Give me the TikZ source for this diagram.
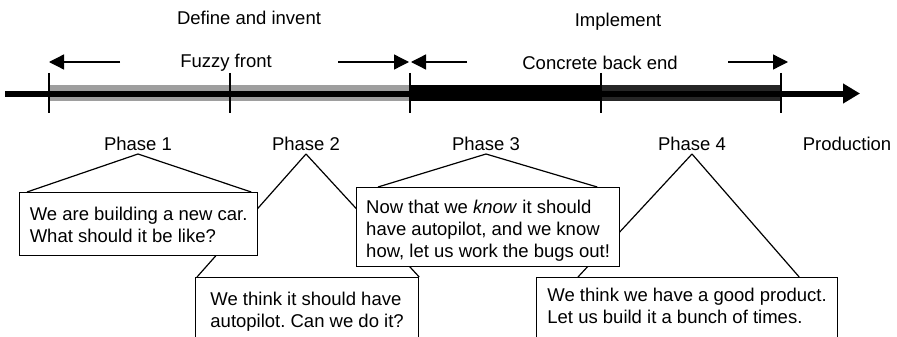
\documentclass[tikz,border=0pt]{standalone}
\usepackage{fontspec}
\setmainfont{Liberation Sans}
\usetikzlibrary{arrows.meta,backgrounds}
\frenchspacing

% struts to set the space above the first and below the last line of a note
\newcommand{\upgap}[1]{\rule{0pt}{#1}}
\newcommand{\downgap}[1]{\rule[-#1]{0pt}{#1}}

\begin{document}
\begin{tikzpicture}[x=1pt,y=-1pt,
  font=\fontsize{18.5}{22}\selectfont,
  note/.style={draw,fill=white,line width=1.2pt,anchor=north west,
    align=left,inner xsep=9pt,inner ysep=0pt},
  span/.style={line width=1.3pt,-{Triangle[length=15pt,width=15pt]}},
  leg/.style={line width=1.2pt}]
  \useasboundingbox (0,0) rectangle (897,337);

  % Time line
  \fill[black!38] (49,85) rectangle (410,101);
  \fill[black] (410,85) rectangle (601,101);
  \fill[black!85] (601,85) rectangle (781,101);
  \draw[line width=6pt,-{Triangle[length=17pt,width=19pt]}] (5,93.5) -- (860,93.5);
  \foreach \x/\n in {49/1,230/2,410/3,601/4,781/5}
    \draw[line width=1.2pt] (\x,73) coordinate (t\n) -- (\x,113);

  % Labels above
  \node[anchor=base] (define) at (249,25) {Define and invent};
  \node[anchor=base] (impl) at (618,27) {Implement};
  \node[anchor=base] (fuzzy) at (226,68) {Fuzzy front};
  \node[anchor=base] (back) at (600,70) {Concrete back end};

  % Spans
  \coordinate (s1) at (120,62);
  \coordinate (s2) at (339,62);
  \coordinate (s3) at (467,62);
  \coordinate (s4) at (773,62);
  \draw[span] (s1) -- (s1 -| t1);
  \draw[span] ([xshift=-1pt]s2) -- ([xshift=-1pt]s2 -| t3);
  \draw[span] (s3) -- ([xshift=1pt]s3 -| t3);
  \draw[span] ([xshift=-45pt]s4) -- ([xshift=7pt]s4 -| t5);

  % Phases
  \node[anchor=base] (p1) at (138,150) {Phase 1};
  \node[anchor=base] (p2) at (306,150) {Phase 2};
  \node[anchor=base] (p3) at (486,150) {Phase 3};
  \node[anchor=base] (p4) at (692,150) {Phase 4};
  \node[anchor=base] (prod) at (847,150) {Production};
  \foreach \n in {1,...,4}
    \coordinate (a\n) at ([yshift=-4pt]p\n.base);

  % Notes
  \node[note,minimum width=238pt] (b1) at (19,192)
    {\upgap{28pt}We are building a new car.\\What should it be like?\downgap{13pt}};
  \node[note,minimum width=223pt] (b2) at (195,277)
    {\upgap{28pt}We think it should have\\autopilot. Can we do it?\downgap{20pt}};
  \node[note,minimum width=263pt] (b3) at (356,187)
    {\upgap{25.5pt}Now that we \textit{know} it should\\have autopilot, and we know\\how, let us work the bugs out!\downgap{9.5pt}};
  \node[note,minimum width=301pt] (b4) at (536,277)
    {\upgap{24pt}We think we have a good product.\\Let us build it a bunch of times.\downgap{20pt}};

  \begin{scope}[on background layer]
    \draw[leg] (a1) -- ([xshift=8pt]b1.north west);
    \draw[leg] (a1) -- ([xshift=-7pt]b1.north east);
    \draw[leg] (a2) -- ([xshift=2pt]b2.north west);
    \draw[leg] (a2) -- (b2.north east);
    \draw[leg] (a3) -- ([xshift=22pt]b3.north west);
    \draw[leg] (a3) -- ([xshift=-23pt]b3.north east);
    \draw[leg] (a4) -- ([xshift=42pt]b4.north west);
    \draw[leg] (a4) -- ([xshift=-39pt]b4.north east);
  \end{scope}
\end{tikzpicture}
\end{document}
